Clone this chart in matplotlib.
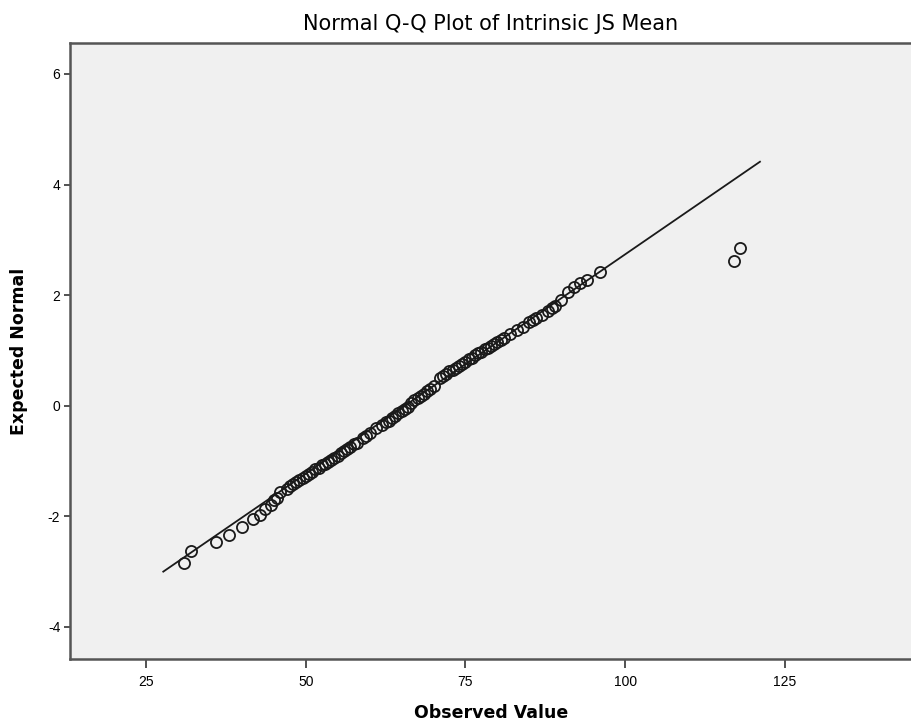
import matplotlib.pyplot as plt
import numpy as np

observed = [31, 32, 36, 38, 40, 41.8, 42.8, 43.6, 44.5, 45, 45.5, 46, 47, 47.5,
            48, 48.5, 49, 49.5, 50, 50.5, 51, 51.5, 52, 52.5, 53, 53.5, 54, 54.5,
            55, 55.5, 56, 56.5, 57, 57.5, 58, 59, 59.5, 60, 61, 62, 62.5, 63, 63.5,
            64, 64.5, 65, 65.5, 66, 66.5, 67, 67.5, 68, 68.5, 69, 69.5, 70, 71,
            71.5, 72, 72.5, 73, 73.5, 74, 74.5, 75, 75.5, 76, 76.5, 77, 77.5, 78,
            78.5, 79, 79.5, 80, 80.5, 81, 82, 83, 84, 85, 85.5, 86, 87, 88, 88.5,
            89, 90, 91, 92, 93, 94, 96, 117, 118]
expected = [-2.85, -2.62, -2.47, -2.33, -2.19, -2.05, -1.97, -1.87, -1.80, -1.70,
            -1.66, -1.56, -1.50, -1.46, -1.42, -1.38, -1.35, -1.31, -1.27, -1.23,
            -1.19, -1.15, -1.12, -1.08, -1.05, -1.01, -0.98, -0.94, -0.90, -0.86,
            -0.82, -0.78, -0.74, -0.70, -0.67, -0.58, -0.54, -0.50, -0.41, -0.34,
            -0.30, -0.27, -0.22, -0.18, -0.14, -0.10, -0.06, -0.02, 0.05, 0.10,
            0.14, 0.18, 0.22, 0.26, 0.30, 0.35, 0.50, 0.54, 0.58, 0.62, 0.65, 0.69,
            0.72, 0.76, 0.80, 0.84, 0.87, 0.91, 0.95, 0.98, 1.02, 1.05, 1.08, 1.11,
            1.15, 1.18, 1.22, 1.30, 1.37, 1.43, 1.52, 1.55, 1.58, 1.65, 1.72, 1.76,
            1.80, 1.92, 2.05, 2.15, 2.22, 2.28, 2.42, 2.62, 2.85]

# reference line: mean and sd of the fitted normal
line_x = [27.7, 121.1]
line_mean = 65.5
line_sd = 12.6

x_ticks = [25, 50, 75, 100, 125]
y_ticks = [-4, -2, 0, 2, 4, 6]

plt.rcParams['font.family'] = ['Liberation Sans', 'DejaVu Sans']
plt.rcParams['axes.unicode_minus'] = False

fig = plt.figure(figsize=(9.12, 7.28), dpi=100)
ax = fig.add_axes([70 / 912, 1 - 659 / 728, 1 - 70 / 912, (659 - 43) / 728])
ax.set_facecolor('#f0f0f0')

lx = np.array(line_x)
ax.plot(lx, (lx - line_mean) / line_sd, color='#1a1a1a', linewidth=1.3, zorder=2)
ax.plot(observed, expected, linestyle='none', marker='o', markersize=8,
        markerfacecolor='none', markeredgecolor='#1a1a1a', markeredgewidth=1.3, zorder=3)

ax.set_xlim(13.1, 144.9)
ax.set_ylim(-4.58, 6.56)
ax.set_xticks(x_ticks)
ax.set_yticks(y_ticks)
ax.tick_params(axis='x', direction='out', length=6.5, width=1.2, color='#333333',
               labelsize=10, pad=5)
ax.tick_params(axis='y', direction='out', length=4, width=1.2, color='#333333',
               labelsize=10, pad=3)

for side in ['left', 'bottom', 'top']:
    ax.spines[side].set_color('#555555')
    ax.spines[side].set_linewidth(1.8)
ax.spines['right'].set_visible(False)

ax.set_title('Normal Q-Q Plot of Intrinsic JS Mean', fontsize=15, pad=9,
             family='DejaVu Sans')
ax.set_xlabel('Observed Value', fontsize=12.5, fontweight='bold', labelpad=11,
              family='DejaVu Sans')
ax.set_ylabel('Expected Normal', fontsize=12.5, fontweight='bold', labelpad=14,
              family='DejaVu Sans')

fig.savefig('out.png', dpi=100)
